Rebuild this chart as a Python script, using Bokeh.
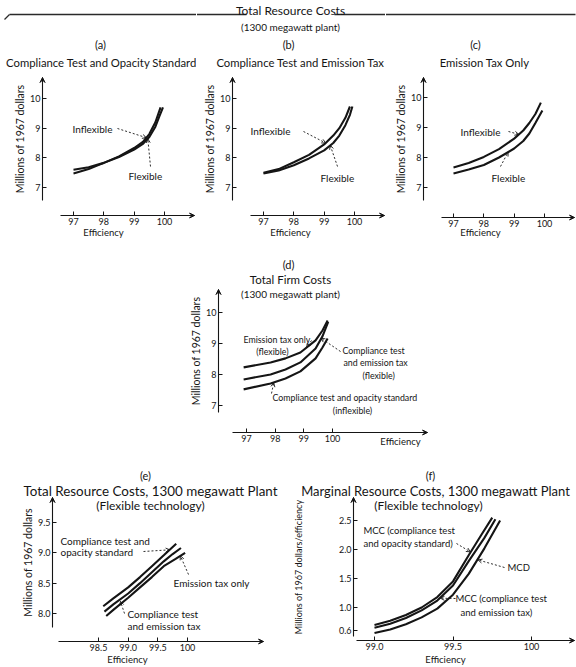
from bokeh.plotting import figure
from bokeh.models import (Range1d, FixedTicker, Label, Arrow, OpenHead, VeeHead,
                          CustomJSTickFormatter)
from bokeh.layouts import column, row
from bokeh.embed import file_html
from bokeh.resources import INLINE

FONT = "Lato"
INK = "#151515"

# ---------------- data ----------------
# (a) Compliance test and opacity standard
a_eff_inflexible = [97.0, 97.5, 98.0, 98.5, 99.0, 99.3, 99.5, 99.7, 99.87]
a_cost_inflexible = [7.47, 7.62, 7.83, 8.05, 8.33, 8.55, 8.8, 9.2, 9.7]
a_eff_flexible = [97.0, 97.5, 98.0, 98.5, 99.0, 99.3, 99.5, 99.7, 99.83, 99.95]
a_cost_flexible = [7.6, 7.68, 7.83, 8.03, 8.28, 8.48, 8.7, 9.05, 9.4, 9.7]

# (b) Compliance test and emission tax
b_eff_inflexible = [97.0, 97.5, 98.0, 98.5, 99.0, 99.3, 99.5, 99.7, 99.85]
b_cost_inflexible = [7.5, 7.62, 7.85, 8.1, 8.45, 8.75, 9.0, 9.35, 9.73]
b_eff_flexible = [97.0, 97.5, 98.0, 98.5, 99.0, 99.3, 99.5, 99.7, 99.85, 99.93]
b_cost_flexible = [7.47, 7.57, 7.75, 7.98, 8.25, 8.5, 8.75, 9.1, 9.45, 9.73]

# (c) Emission tax only
c_eff_inflexible = [97.0, 97.5, 98.0, 98.5, 99.0, 99.3, 99.5, 99.7, 99.88]
c_cost_inflexible = [7.67, 7.82, 8.02, 8.28, 8.63, 8.9, 9.15, 9.45, 9.83]
c_eff_flexible = [97.0, 97.5, 98.0, 98.5, 99.0, 99.3, 99.5, 99.7, 99.93]
c_cost_flexible = [7.47, 7.6, 7.75, 8.0, 8.3, 8.55, 8.8, 9.15, 9.57]

# (d) Total firm costs
d_eff_tax_only = [96.9, 97.84, 98.36, 98.88, 99.41, 99.65, 99.83]
d_cost_tax_only = [8.23, 8.39, 8.52, 8.71, 9.1, 9.42, 9.74]
d_eff_test_tax = [96.9, 97.84, 98.36, 98.88, 99.41, 99.65, 99.85]
d_cost_test_tax = [7.84, 8.0, 8.16, 8.39, 8.84, 9.23, 9.7]
d_eff_test_opacity = [96.9, 97.84, 98.36, 98.88, 99.41, 99.65, 99.83]
d_cost_test_opacity = [7.52, 7.71, 7.87, 8.1, 8.52, 8.87, 9.16]

# (e) Total resource costs, flexible technology
e_eff_test_opacity = [98.58, 98.75, 99.0, 99.2, 99.4, 99.6, 99.81]
e_cost_test_opacity = [8.12, 8.25, 8.43, 8.6, 8.78, 8.96, 9.15]
e_eff_test_tax = [98.6, 98.75, 99.0, 99.2, 99.4, 99.6, 99.75, 99.89]
e_cost_test_tax = [8.03, 8.15, 8.33, 8.5, 8.68, 8.86, 8.98, 9.08]
e_eff_tax_only = [98.63, 98.75, 99.0, 99.2, 99.4, 99.6, 99.8, 99.96]
e_cost_tax_only = [7.96, 8.06, 8.26, 8.43, 8.6, 8.78, 8.9, 9.0]

# (f) Marginal resource costs, flexible technology
f_eff_mcc_opacity = [99.0, 99.1, 99.2, 99.3, 99.4, 99.5, 99.6, 99.68, 99.75]
f_mc_mcc_opacity = [0.7, 0.77, 0.87, 1.0, 1.18, 1.45, 1.9, 2.25, 2.55]
f_eff_mcc_tax = [99.0, 99.1, 99.2, 99.3, 99.4, 99.5, 99.6, 99.7, 99.77]
f_mc_mcc_tax = [0.65, 0.72, 0.82, 0.95, 1.12, 1.38, 1.8, 2.2, 2.52]
f_eff_mcd = [99.0, 99.1, 99.2, 99.3, 99.4, 99.5, 99.6, 99.7, 99.8]
f_mc_mcd = [0.56, 0.62, 0.71, 0.83, 0.98, 1.22, 1.58, 2.02, 2.5]

ticks_top = [97, 98, 99, 100]
ticks_cost = [7, 8, 9, 10]
ticks_e_x = [98.5, 99.0, 99.5, 100.0]
ticks_e_y = [8.0, 8.5, 9.0, 9.5]
ticks_f_x = [99.0, 99.5, 100.0]
ticks_f_y = [0.6, 1.0, 1.5, 2.0, 2.5]


# ---------------- geometry helpers (page pixels -> data) ----------------
class Panel:
    """A figure whose frame fills its whole box; axes sit at fixed locations inside."""

    def __init__(self, left, top, width, height, xt, yt):
        self.left, self.width = left, width
        (self.xv, self.px1), (xv2, px2) = xt
        self.sx = (xv2 - self.xv) / (px2 - self.px1)
        (self.yv, self.py1), (yv2, py2) = yt
        self.sy = (self.yv - yv2) / (py2 - self.py1)
        self.x0, self.x1 = self.dx(left), self.dx(left + width)
        self.y0, self.y1 = self.dy(top + height), self.dy(top)
        p = figure(width=width, height=height,
                   x_range=Range1d(self.x0, self.x1), y_range=Range1d(self.y0, self.y1),
                   output_backend="svg", toolbar_location=None, title=None,
                   min_border=0, min_border_left=0, min_border_right=0,
                   min_border_top=0, min_border_bottom=0)
        p.grid.visible = False
        p.outline_line_color = None
        p.background_fill_color = "white"
        p.border_fill_color = "white"
        self.fig = p

    def dx(self, px):
        return self.xv + (px - self.px1) * self.sx

    def dy(self, py):
        return self.yv + (self.py1 - py) * self.sy


def style_axes(P, xticks, yticks, yaxis_px, xaxis_py, x_from, x_to, y_from, y_to,
               ylabel, ylabel_size="10.5px", ylabel_standoff=1, fmt_decimal=False):
    p = P.fig
    xa, ya = p.xaxis[0], p.yaxis[0]
    xa.fixed_location = P.dy(xaxis_py)
    ya.fixed_location = P.dx(yaxis_px)
    xa.ticker = FixedTicker(ticks=xticks)
    ya.ticker = FixedTicker(ticks=yticks)
    if fmt_decimal:
        xa.formatter = CustomJSTickFormatter(code="return tick >= 100 ? '100' : tick.toFixed(1)")
        ya.formatter = CustomJSTickFormatter(code="return tick.toFixed(1)")
    for ax in (xa, ya):
        ax.axis_line_color = INK
        ax.axis_line_width = 1.1
        ax.major_tick_line_color = INK
        ax.major_tick_line_width = 1
        ax.major_tick_in = 4
        ax.major_tick_out = 0
        ax.minor_tick_line_color = None
        ax.major_label_text_font = FONT
        ax.major_label_text_font_size = "9px"
        ax.major_label_text_color = INK
        ax.major_label_standoff = 2
    xa.bounds = (P.dx(x_from), P.dx(x_to))
    ya.bounds = (P.dy(y_from), P.dy(y_to))
    ya.axis_label = ylabel
    ya.axis_label_text_font = FONT
    ya.axis_label_text_font_size = ylabel_size
    ya.axis_label_text_font_style = "normal"
    ya.axis_label_text_color = INK
    ya.axis_label_standoff = ylabel_standoff
    head = dict(size=5, line_color=INK, fill_color=INK, line_width=1)
    xa_y = P.dy(xaxis_py)
    ya_x = P.dx(yaxis_px)
    p.add_layout(Arrow(x_start=ya_x, y_start=P.dy(y_to + 6), x_end=ya_x, y_end=P.dy(y_to),
                       line_color=INK, line_width=1, end=VeeHead(**head)))
    p.add_layout(Arrow(x_start=P.dx(x_to - 6), y_start=xa_y, x_end=P.dx(x_to), y_end=xa_y,
                       line_color=INK, line_width=1, end=VeeHead(**head)))


def txt(P, px, py, s, size="10px", align="left", style="normal"):
    P.fig.add_layout(Label(x=P.dx(px), y=P.dy(py), text=s, text_font=FONT,
                           text_font_size=size, text_color=INK, text_align=align,
                           text_baseline="middle", text_font_style=style))


def leader(P, px, py, x_tip, y_tip):
    P.fig.add_layout(Arrow(x_start=P.dx(px), y_start=P.dy(py), x_end=x_tip, y_end=y_tip,
                           line_color=INK, line_width=0.9, line_dash="2 2",
                           end=OpenHead(size=4, line_color=INK, line_width=0.9)))


def curve(P, x, y):
    P.fig.line(x, y, line_color=INK, line_width=2.1)


def header_rule(P):
    # bracket rule of the common heading "Total Resource Costs";
    # each panel draws only the stretch that lies inside its own box
    lo, hi = P.left + 0.5, P.left + P.width - 0.5
    for (xa, ya_), (xb, yb) in (((4, 19), (9, 14)), ((9, 14), (246, 14)), ((334, 14), (575, 14))):
        s, e = max(lo, xa), min(hi, xb)
        if e <= s:
            continue
        t0 = (s - xa) / (xb - xa)
        t1 = (e - xa) / (xb - xa)
        P.fig.segment(x0=[P.dx(s)], y0=[P.dy(ya_ + (yb - ya_) * t0)],
                      x1=[P.dx(e)], y1=[P.dy(ya_ + (yb - ya_) * t1)],
                      line_color="#2a2a2a", line_width=1.3)


YLAB = "Millions of 1967 dollars"

# ---------------- (a) ----------------
A = Panel(0, 0, 196, 240, ((97, 73), (100, 164)), ((10, 98), (7, 187)))
style_axes(A, ticks_top, ticks_cost, 42, 215, 60, 194, 200, 77, YLAB)
header_rule(A)
curve(A, a_eff_inflexible, a_cost_inflexible)
curve(A, a_eff_flexible, a_cost_flexible)
txt(A, 100, 44, "(a)", "11px", "center")
txt(A, 101, 62, "Compliance Test and Opacity Standard", "11.3px", "center")
txt(A, 103, 232, "Efficiency", "9.5px", "center")
txt(A, 72, 128, "Inflexible")
leader(A, 117, 128, 99.4, 8.68)
txt(A, 128, 175, "Flexible")
leader(A, 150, 166, 99.45, 8.64)

# ---------------- (b) ----------------
B = Panel(196, 0, 189, 240, ((97, 263), (100, 354)), ((10, 98), (7, 187)))
style_axes(B, ticks_top, ticks_cost, 232, 215, 250, 384, 200, 77, YLAB)
header_rule(B)
txt(B, 290, 10, "Total Resource Costs", "12px", "center")
txt(B, 290, 26, "(1300 megawatt plant)", "10px", "center")
curve(B, b_eff_inflexible, b_cost_inflexible)
curve(B, b_eff_flexible, b_cost_flexible)
txt(B, 288, 44, "(b)", "11px", "center")
txt(B, 300, 62, "Compliance Test and Emission Tax", "11.3px", "center")
txt(B, 290, 232, "Efficiency", "9.5px", "center")
txt(B, 250, 130, "Inflexible")
leader(B, 303, 131, 99.05, 8.5)
txt(B, 320, 177, "Flexible")
leader(B, 337, 166, 99.2, 8.42)

# ---------------- (c) ----------------
C = Panel(385, 0, 191, 240, ((97, 453), (100, 544)), ((10, 97), (7, 187)))
style_axes(C, ticks_top, ticks_cost, 423, 217, 441, 574, 200, 77, YLAB)
header_rule(C)
curve(C, c_eff_inflexible, c_cost_inflexible)
curve(C, c_eff_flexible, c_cost_flexible)
txt(C, 475, 44, "(c)", "11px", "center")
txt(C, 484, 62, "Emission Tax Only", "11.3px", "center")
txt(C, 480, 232, "Efficiency", "9.5px", "center")
txt(C, 460, 131, "Inflexible")
leader(C, 508, 131, 99.15, 8.77)
txt(C, 491, 177, "Flexible")
leader(C, 500, 166, 98.8, 8.18)

# ---------------- (d) ----------------
D = Panel(0, 240, 576, 207, ((97, 246), (100, 332)), ((10, 312), (7, 405)))
style_axes(D, ticks_top, ticks_cost, 218, 432, 232, 427, 412, 289, YLAB)
curve(D, d_eff_tax_only, d_cost_tax_only)
curve(D, d_eff_test_tax, d_cost_test_tax)
curve(D, d_eff_test_opacity, d_cost_test_opacity)
txt(D, 288, 264, "(d)", "11px", "center")
txt(D, 290, 279, "Total Firm Costs", "11.5px", "center")
txt(D, 290, 293, "(1300 megawatt plant)", "10px", "center")
txt(D, 400, 441, "Efficiency", "9.5px", "center")
txt(D, 243, 339, "Emission tax only", "8.8px")
txt(D, 272, 351, "(flexible)", "8.8px", "center")
leader(D, 311, 340, 99.1, 8.88)
txt(D, 342, 350, "Compliance test", "8.8px")
txt(D, 343, 362, "and emission tax", "8.8px")
txt(D, 362, 375, "(flexible)", "8.8px")
leader(D, 340, 351, 99.6, 9.17)
txt(D, 272, 397, "Compliance test and opacity standard", "8.8px")
txt(D, 352, 410, "(inflexible)", "8.8px", "center")
leader(D, 271, 393, 97.95, 7.73)

# ---------------- (e) ----------------
E = Panel(0, 447, 290, 220, ((98.5, 98), (100, 187)), ((9.5, 522), (8.0, 613)))
style_axes(E, ticks_e_x, ticks_e_y, 52, 641, 58, 263, 627, 497, YLAB,
           ylabel_standoff=1, fmt_decimal=True)
curve(E, e_eff_test_opacity, e_cost_test_opacity)
curve(E, e_eff_test_tax, e_cost_test_tax)
curve(E, e_eff_tax_only, e_cost_tax_only)
txt(E, 145, 475, "(e)", "11px", "center")
txt(E, 150, 490, "Total Resource Costs, 1300 megawatt Plant", "13.4px", "center")
txt(E, 150, 505, "(Flexible technology)", "12px", "center")
txt(E, 127, 659, "Efficiency", "9.5px", "center")
txt(E, 60, 540, "Compliance test and", "10px")
txt(E, 60, 551, "opacity standard", "10px")
leader(E, 143, 551, 99.7, 9.05)
txt(E, 173, 582, "Emission tax only", "10px")
leader(E, 188, 574, 99.88, 8.95)
txt(E, 127, 613, "Compliance test", "10px")
txt(E, 127, 625, "and emission tax", "10px")
leader(E, 124, 613, 98.87, 8.2)

# ---------------- (f) ----------------
F = Panel(290, 447, 286, 220, ((99.0, 374), (100, 531)), ((2.5, 520), (1.0, 607)))
style_axes(F, ticks_f_x, ticks_f_y, 353, 640, 356, 574, 636, 497,
           "Millions of 1967 dollars/efficiency", ylabel_size="9px", ylabel_standoff=32,
           fmt_decimal=True)
curve(F, f_eff_mcc_opacity, f_mc_mcc_opacity)
curve(F, f_eff_mcc_tax, f_mc_mcc_tax)
curve(F, f_eff_mcd, f_mc_mcd)
txt(F, 430, 475, "(f)", "11px", "center")
txt(F, 435, 490, "Marginal Resource Costs, 1300 megawatt Plant", "13px", "center")
txt(F, 428, 505, "(Flexible technology)", "12px", "center")
txt(F, 445, 659, "Efficiency", "9.5px", "center")
txt(F, 363, 530, "MCC (compliance test", "9.5px")
txt(F, 363, 543, "and opacity standard)", "9.5px")
leader(F, 456, 543, 99.61, 1.96)
txt(F, 507, 567, "MCD", "9.5px")
leader(F, 504, 567, 99.66, 1.82)
txt(F, 455, 598, "MCC (compliance test", "9.5px")
txt(F, 460, 612, "and emission tax)", "9.5px")
leader(F, 455, 598, 99.42, 1.16)

layout = column(row(A.fig, B.fig, C.fig), D.fig, row(E.fig, F.fig))

with open("out.html", "w") as fh:
    fh.write(file_html(layout, INLINE))
